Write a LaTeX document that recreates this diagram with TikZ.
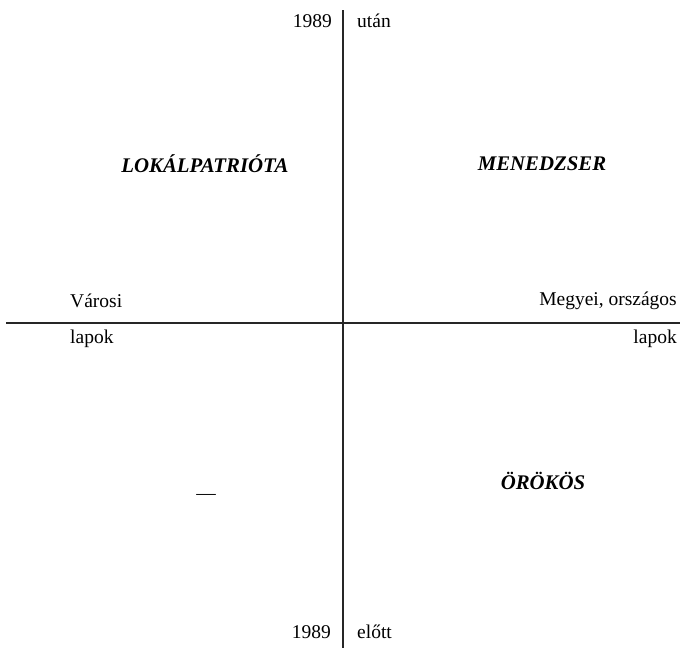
\documentclass[tikz,border=0pt]{standalone}
\usepackage{fontspec}
\setmainfont{Liberation Serif}

\tikzset{
    tag/.style={inner sep=0pt, font=\fontsize{19.5}{22}\selectfont},
    quad/.style={inner sep=0pt, font=\fontsize{20.8}{24}\selectfont\bfseries\itshape},
    axis/.style={line width=1.4pt, black!85},
}

\begin{document}
\begin{tikzpicture}[x=1pt, y=-1pt]
        \useasboundingbox (0,0) rectangle (680,648);

            \coordinate (top) at (343,10);
            \coordinate (bot) at (343,648);
            \coordinate (lft) at (6,323);
            \coordinate (rgt) at (680,323);

            \draw [axis] (top) -- (bot);
            \draw [axis] (lft) -- (rgt);

            \node [tag, anchor=east] (ytop) at (332,21) {1989};
            \node [tag, anchor=west] (utan) at (357,21) {után};
            \node [tag, anchor=east] (ybot) at (331,632) {1989};
            \node [tag, anchor=west] (elott) at (357,632) {előtt};

            \node [tag, anchor=west] (varosi) at (70,301) {Városi};
            \node [tag, anchor=west] (lapokl) at (70,339) {lapok};
            \node [tag, anchor=east] (megyei) at (677,301) {Megyei, országos};
            \node [tag, anchor=east] (lapokr) at (677,339) {lapok};

            \node [quad] (lokal) at (205,164) {LOKÁLPATRIÓTA};
            \node [quad] (menedzser) at (542,164) {MENEDZSER};
            \node [quad] (orokos) at (543,481) {ÖRÖKÖS};
            \node [tag] (ures) at (206,497) {—};

        \end{tikzpicture}
\end{document}
